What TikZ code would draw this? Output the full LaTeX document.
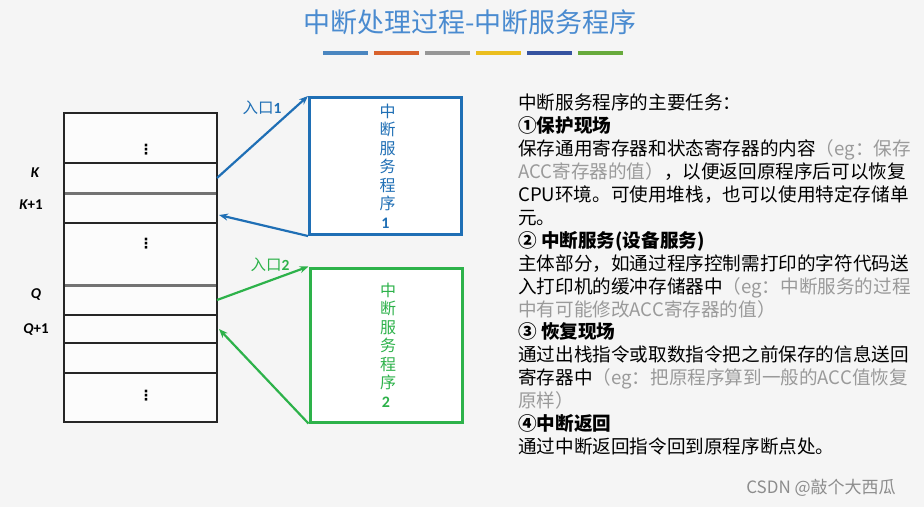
\documentclass[tikz,border=0pt]{standalone}
\usepackage{fontspec}
\setmainfont{Carlito}
\newfontfamily\cjk{Noto Sans CJK SC}
\newfontfamily\symfont{DejaVu Sans}
\usetikzlibrary{arrows.meta}

\definecolor{palBlue}{HTML}{1F6FB5}
\definecolor{palGreen}{HTML}{2DB24A}
\definecolor{titleBlue}{HTML}{4A8BD0}
\definecolor{textGray}{HTML}{9A9A9A}
\definecolor{barA}{HTML}{4A86C0}
\definecolor{barB}{HTML}{D8622D}
\definecolor{barC}{HTML}{969696}
\definecolor{barD}{HTML}{EBBE1E}
\definecolor{barE}{HTML}{3553A0}
\definecolor{barF}{HTML}{67AA3C}

\begin{document}
\begin{tikzpicture}[
    x=1pt, y=-1pt,
    mem/.style={draw=black!85, line width=2.4pt},
    sep/.style={black!55, line width=3pt},
    dots/.style={font=\symfont\bfseries\fontsize{14}{14}\selectfont, inner sep=0pt},
    svc/.style={line width=3pt, fill=white, minimum width=152pt,
        align=center, text width=1.2em,
        font=\cjk\fontsize{16}{18.5}\selectfont},
    arr/.style={->, line width=2.2pt, >={Stealth[length=9pt, width=7pt]}},
    addr/.style={font=\bfseries\fontsize{15}{15}\selectfont},
    entry/.style={font=\cjk\fontsize{15.5}{15.5}\selectfont},
]

% background
\fill[black!4] (0,0) rectangle (924,507);
\useasboundingbox (0,0) rectangle (924,507);

% --- Title ---
\node[font=\cjk\fontsize{27}{27}\selectfont, text=titleBlue]
    (title) at (470,22) {中断处理过程-中断服务程序};
\foreach \i/\c in {0/barA, 1/barB, 2/barC, 3/barD, 4/barE, 5/barF} {
    \fill[\c] ({323+\i*51},50.5) rectangle ++(45,4);
}

% --- Main memory (left) ---
\fill[black!1] (64,113) rectangle (217,422);
\foreach \y in {163, 223, 315, 343, 373} {
    \draw[mem] (64,\y) -- (217,\y);
}
\draw[sep] (64,193) -- (217,193);
\draw[sep] (64,285) -- (217,285);
\draw[mem] (64,113) rectangle (217,422);

\node[dots] (dtop) at (146,150) {⋮};
\node[dots] (dmid) at (146,244) {⋮};
\node[dots] (dbot) at (146,396) {⋮};

% connector ends on the block
\coordinate (kout) at (217,178);
\coordinate (kin) at (219,215);
\coordinate (qout) at (217,300);
\coordinate (qin) at (219,329);

% addresses
\node[addr] (lk) at (35,173) {\itshape K};
\node[addr] (lkk) at (31,205) {{\itshape K}+1};
\node[addr] (lq) at (36,295) {\itshape Q};
\node[addr] (lqq) at (36,330) {{\itshape Q}+1};

% --- Service routines (middle) ---
\node[svc, draw=palBlue, text=palBlue, minimum height=137pt]
    (svc1) at (385.5,166) {中\\断\\服\\务\\程\\序\\{\normalfont\bfseries 1}};
\node[svc, draw=palGreen, text=palGreen, minimum height=154pt]
    (svc2) at (386,345) {中\\断\\服\\务\\程\\序\\{\normalfont\bfseries 2}};

\draw[arr, palBlue] (kout) -- (svc1.north west);
\draw[arr, palBlue] (svc1.south west) -- (kin);
\draw[arr, palGreen] (qout) -- (svc2.north west);
\draw[arr, palGreen] (svc2.south west) -- (qin);

\node[entry, text=palBlue] (in1) at (262,108) {入口{\normalfont\bfseries 1}};
\node[entry, text=palGreen] (in2) at (270,265) {入口{\normalfont\bfseries 2}};

% --- Tasks (right) ---
\node[anchor=north west, inner sep=0pt, align=left,
      font=\cjk\fontsize{18.6}{22.9}\selectfont]
    (tasks) at (518,94) {%
    中断服务程序的主要任务：\\
    \textbf{①保护现场}\\
    保存通用寄存器和状态寄存器的内容\textcolor{textGray}{（eg：保存}\\
    \textcolor{textGray}{ACC寄存器的值）}，以便返回原程序后可以恢复\\
    CPU环境。可使用堆栈，也可以使用特定存储单\\
    元。\\
    \textbf{② 中断服务(设备服务)}\\
    主体部分，如通过程序控制需打印的字符代码送\\
    入打印机的缓冲存储器中\textcolor{textGray}{（eg：中断服务的过程}\\
    \textcolor{textGray}{中有可能修改ACC寄存器的值）}\\
    \textbf{③ 恢复现场}\\
    通过出栈指令或取数指令把之前保存的信息送回\\
    寄存器中\textcolor{textGray}{（eg：把原程序算到一般的ACC值恢复}\\
    \textcolor{textGray}{原样）}\\
    \textbf{④中断返回}\\
    通过中断返回指令回到原程序断点处。};

% watermark
\node[font=\cjk\fontsize{17}{17}\selectfont, text=black!45]
    (mark) at (821,488) {CSDN @敲个大西瓜};

\end{tikzpicture}
\end{document}
